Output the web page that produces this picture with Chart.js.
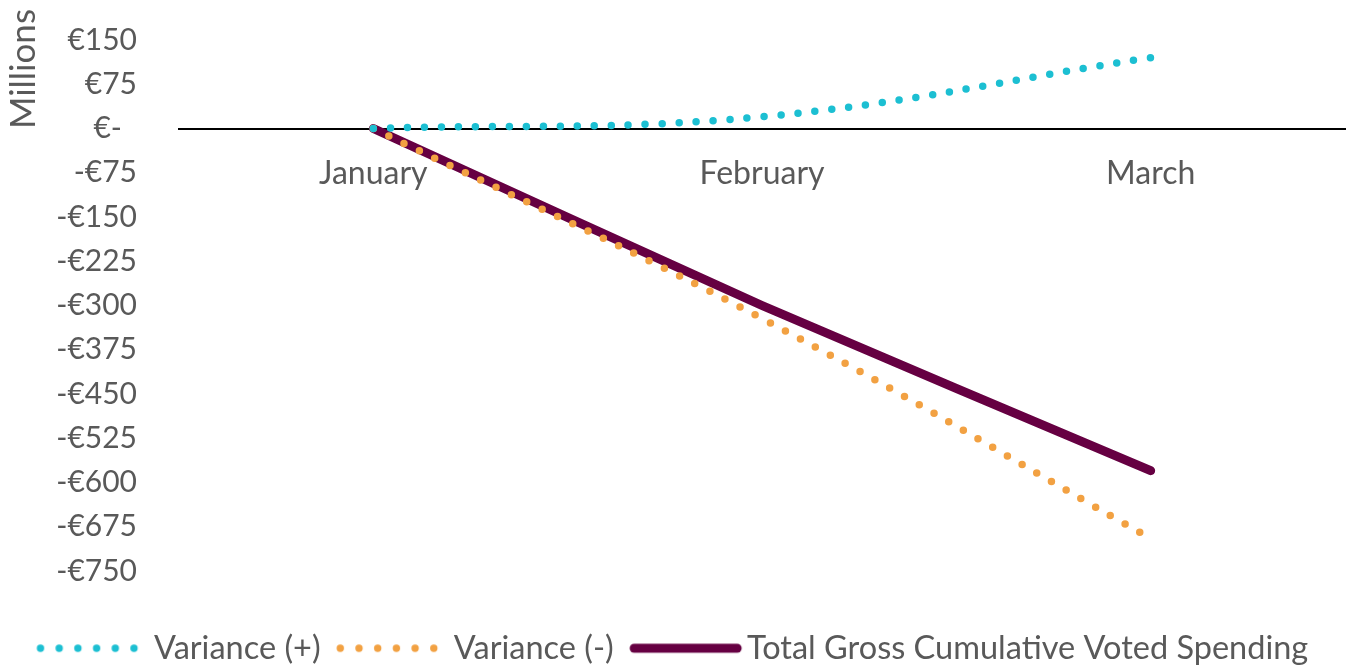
<!DOCTYPE html>
<html>
<head>
<meta charset="utf-8">
<script src="https://cdn.jsdelivr.net/npm/chart.js@4"></script>
<style>
  html, body { margin: 0; padding: 0; background: #fff; }
  #wrap { width: 1350px; height: 668px; }
</style>
</head>
<body>
<div id="wrap"><canvas id="spendChart" width="1350" height="668"></canvas></div>
<script>
const months = ['January', 'February', 'March'];
const variancePlus = [0, 20, 120];
const varianceMinus = [0, -322, -695];
const totalSpending = [0, -300, -580];
const yMin = -750;
const yMax = 150;
const yStep = 75;

const CYAN = '#1CBFD2';
const ORANGE = '#F2A142';
const PLUM = '#660042';
const GREY = '#595959';
const FONT = 'Lato, "Open Sans", sans-serif';

const PLOT_TOP = 40;
const PLOT_BOTTOM = 571;
const LEGEND_TOP = 616;

// legend swatches: canvas is centred on the 101px box, so pad it left by 12.5
function swatch(color, dotted) {
  const c = document.createElement('canvas');
  c.width = 126;
  c.height = 14;
  const g = c.getContext('2d');
  g.fillStyle = color;
  g.strokeStyle = color;
  if (dotted) {
    for (let i = 0; i < 6; i++) {
      g.beginPath();
      g.arc(12.5 + 3.7 + i * 18.7, 7, 3.7, 0, Math.PI * 2);
      g.fill();
    }
  } else {
    g.lineWidth = 9;
    g.lineCap = 'round';
    g.beginPath();
    g.moveTo(17, 7);
    g.lineTo(120, 7);
    g.stroke();
  }
  return c;
}

function euro(v) {
  if (v === 0) return '€-\u2002';
  return (v < 0 ? '-€' : '€') + Math.abs(v);
}

// rotated unit label at the top left
const unitLabel = {
  id: 'unitLabel',
  afterDraw(chart) {
    const ctx = chart.ctx;
    ctx.save();
    ctx.translate(24, 69);
    ctx.rotate(-Math.PI / 2);
    ctx.font = '35px ' + FONT;
    ctx.fillStyle = GREY;
    ctx.textAlign = 'center';
    ctx.textBaseline = 'middle';
    ctx.fillText('Millions', 0, 0);
    ctx.restore();
  }
};

// pin the plot area height and the legend row
const pinLayout = {
  id: 'pinLayout',
  afterLayout(chart) {
    const area = chart.chartArea;
    area.top = PLOT_TOP;
    area.bottom = PLOT_BOTTOM;
    area.height = PLOT_BOTTOM - PLOT_TOP;
    const y = chart.scales.y;
    y.top = PLOT_TOP;
    y.bottom = PLOT_BOTTOM;
    y.height = PLOT_BOTTOM - PLOT_TOP;
    y.configure();
    const lg = chart.legend;
    if (lg) {
      const dy = LEGEND_TOP - lg.top;
      lg.top += dy;
      lg.bottom += dy;
    }
  }
};

const ctx = document.getElementById('spendChart').getContext('2d');
new Chart(ctx, {
  type: 'line',
  data: {
    labels: months,
    datasets: [{
      label: 'Variance (+)',
      data: variancePlus,
      borderColor: CYAN,
      backgroundColor: CYAN,
      borderWidth: 7.5,
      borderDash: [0, 17],
      borderCapStyle: 'round',
      tension: 0.4,
      pointRadius: 0,
      pointStyle: swatch(CYAN, true)
    }, {
      label: 'Variance (-)',
      data: varianceMinus,
      borderColor: ORANGE,
      backgroundColor: ORANGE,
      borderWidth: 7.5,
      borderDash: [0, 17],
      borderCapStyle: 'round',
      tension: 0.4,
      pointRadius: 0,
      pointStyle: swatch(ORANGE, true)
    }, {
      label: 'Total Gross Cumulative Voted Spending',
      data: totalSpending,
      borderColor: PLUM,
      backgroundColor: PLUM,
      borderWidth: 9,
      borderCapStyle: 'round',
      tension: 0.2,
      pointRadius: 0,
      pointStyle: swatch(PLUM, false)
    }]
  },
  options: {
    responsive: false,
    animation: false,
    layout: { padding: { top: 22, right: 5, bottom: 38, left: 0 } },
    scales: {
      x: {
        type: 'category',
        offset: true,
        position: { y: 0 },
        grid: { display: false, drawTicks: false },
        border: { display: true, color: '#000', width: 2 },
        ticks: { color: GREY, font: { family: FONT, size: 32 }, padding: 26 }
      },
      y: {
        min: yMin,
        max: yMax,
        grid: { display: false, drawTicks: false },
        border: { display: false },
        afterFit(scale) { scale.width = 179; },
        ticks: {
          stepSize: yStep,
          color: GREY,
          font: { family: FONT, size: 30 },
          padding: 42,
          callback: (v) => euro(v)
        }
      }
    },
    plugins: {
      legend: {
        position: 'bottom',
        labels: {
          usePointStyle: true,
          pointStyleWidth: 101,
          color: GREY,
          font: { family: FONT, size: 32.5 },
          padding: 16
        }
      },
      tooltip: { enabled: false }
    }
  },
  plugins: [unitLabel, pinLayout]
});
</script>
</body>
</html>
